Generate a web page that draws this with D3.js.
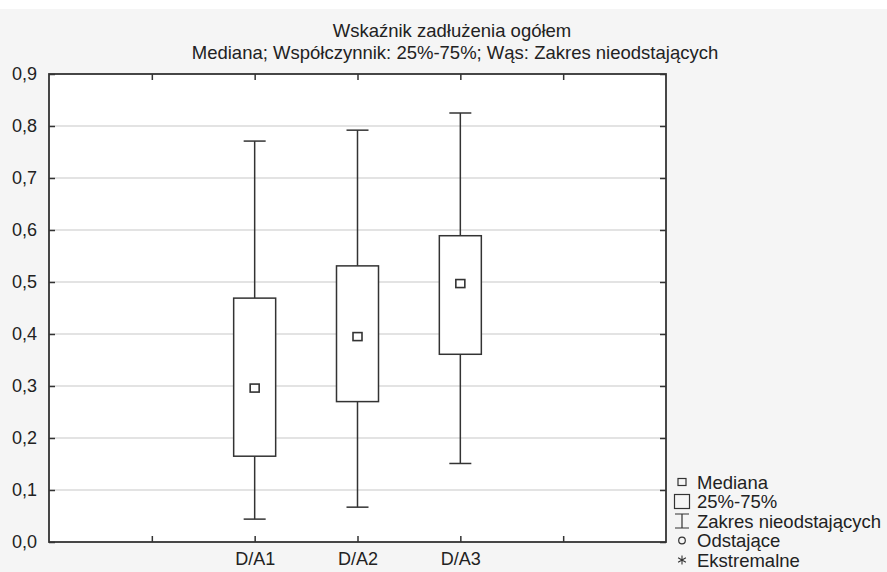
<!DOCTYPE html>
<html>
<head>
<meta charset="utf-8">
<script src="https://cdn.jsdelivr.net/npm/d3@7"></script>
<style>
  html, body { margin: 0; padding: 0; background: #f5f5f5; }
  svg { display: block; }
  text { font-family: "Liberation Sans", Arial, sans-serif; fill: #222; }
</style>
</head>
<body>
<svg id="chart" width="887" height="572"></svg>
<script>
const titleLine1 = "Wskaźnik zadłużenia ogółem";
const titleLine2 = "Mediana; Współczynnik: 25%-75%; Wąs: Zakres nieodstających";
const categories = ["D/A1", "D/A2", "D/A3"];
const categoryPos = [2, 3, 4];
const whiskerHigh = [0.771, 0.792, 0.825];
const q3 = [0.469, 0.531, 0.589];
const median = [0.296, 0.395, 0.497];
const q1 = [0.165, 0.270, 0.361];
const whiskerLow = [0.044, 0.067, 0.151];
const yTicks = [0, 0.1, 0.2, 0.3, 0.4, 0.5, 0.6, 0.7, 0.8, 0.9];
const xTicks = [1, 2, 3, 4, 5];
const legendLabels = ["Mediana", "25%-75%", "Zakres nieodstających", "Odstające", "Ekstremalne"];

(function () {
const svg = d3.select("#chart");
const W = 887, H = 572;
const pL = 49, pR = 666, pT = 74, pB = 542;
const FS = 18.5, FA = 18;
const dark = "#333";

svg.append("rect").attr("x", 0).attr("y", 0).attr("width", W).attr("height", H).attr("fill", "#f5f5f5");
svg.append("rect").attr("x", 0).attr("y", 0).attr("width", W).attr("height", 9).attr("fill", "#ffffff");

const x = d3.scaleLinear().domain([0, 6]).range([pL, pR]);
const y = d3.scaleLinear().domain([0, 0.9]).range([pB, pT]);

svg.append("rect").attr("x", pL).attr("y", pT).attr("width", pR - pL).attr("height", pB - pT).attr("fill", "#fff");

svg.append("g").selectAll("line").data(yTicks.filter(d => d > 0 && d < 0.9)).join("line")
  .attr("x1", pL).attr("x2", pR)
  .attr("y1", d => y(d)).attr("y2", d => y(d))
  .attr("stroke", "#c8c8c8").attr("stroke-width", 1.2);

const fmt = d => d3.format(".1f")(d).replace(".", ",");
const gL = svg.append("g").attr("transform", `translate(${pL},0)`)
  .call(d3.axisLeft(y).tickValues(yTicks).tickSize(-6).tickPadding(12).tickFormat(fmt));
const gR = svg.append("g").attr("transform", `translate(${pR},0)`)
  .call(d3.axisRight(y).tickValues(yTicks).tickSize(-6).tickFormat(""));
const gB = svg.append("g").attr("transform", `translate(0,${pB})`)
  .call(d3.axisBottom(x).tickValues(xTicks).tickSize(-6).tickPadding(10)
    .tickFormat(d => { const i = categoryPos.indexOf(d); return i >= 0 ? categories[i] : ""; }));
const gT = svg.append("g").attr("transform", `translate(0,${pT})`)
  .call(d3.axisTop(x).tickValues(xTicks).tickSize(-6).tickFormat(""));
[gL, gR, gB, gT].forEach(g => {
  g.select(".domain").remove();
  g.selectAll(".tick line").attr("stroke", dark).attr("stroke-width", 1.5);
  g.selectAll("text").attr("font-size", FA).attr("font-family", "Liberation Sans, Arial, sans-serif").attr("fill", "#222");
});

svg.append("rect").attr("x", pL).attr("y", pT).attr("width", pR - pL).attr("height", pB - pT)
  .attr("fill", "none").attr("stroke", dark).attr("stroke-width", 1.8);

const boxW = 42, capW = 22, medW = 9, medH = 8;
const g = svg.append("g");
categories.forEach((c, i) => {
  const cx = x(categoryPos[i]);
  g.append("line").attr("x1", cx).attr("x2", cx).attr("y1", y(whiskerHigh[i])).attr("y2", y(q3[i]))
    .attr("stroke", dark).attr("stroke-width", 1.5);
  g.append("line").attr("x1", cx).attr("x2", cx).attr("y1", y(q1[i])).attr("y2", y(whiskerLow[i]))
    .attr("stroke", dark).attr("stroke-width", 1.5);
  g.append("line").attr("x1", cx - capW / 2).attr("x2", cx + capW / 2).attr("y1", y(whiskerHigh[i])).attr("y2", y(whiskerHigh[i]))
    .attr("stroke", dark).attr("stroke-width", 1.5);
  g.append("line").attr("x1", cx - capW / 2).attr("x2", cx + capW / 2).attr("y1", y(whiskerLow[i])).attr("y2", y(whiskerLow[i]))
    .attr("stroke", dark).attr("stroke-width", 1.5);
  g.append("rect").attr("x", cx - boxW / 2).attr("y", y(q3[i])).attr("width", boxW).attr("height", y(q1[i]) - y(q3[i]))
    .attr("fill", "#fff").attr("stroke", dark).attr("stroke-width", 1.5);
  g.append("rect").attr("x", cx - medW / 2).attr("y", y(median[i]) - medH / 2).attr("width", medW).attr("height", medH)
    .attr("fill", "#fff").attr("stroke", dark).attr("stroke-width", 1.6);
});

svg.append("text").attr("x", 452).attr("y", 30).attr("text-anchor", "middle").attr("dominant-baseline", "central")
  .attr("font-size", FS).text(titleLine1);
svg.append("text").attr("x", 455).attr("y", 52).attr("text-anchor", "middle").attr("dominant-baseline", "central")
  .attr("font-size", FS).text(titleLine2);

const lx = 682, ltx = 697, ly0 = 482, ldy = 19.5;
const lg = svg.append("g");
legendLabels.forEach((t, i) => {
  const yy = ly0 + i * ldy;
  lg.append("text").attr("x", ltx).attr("y", yy).attr("dominant-baseline", "central").attr("font-size", FS).text(t);
  if (i === 0) {
    lg.append("rect").attr("x", lx - 4).attr("y", yy - 3.5).attr("width", 8).attr("height", 7)
      .attr("fill", "none").attr("stroke", dark).attr("stroke-width", 1.2);
  } else if (i === 1) {
    lg.append("rect").attr("x", lx - 7.5).attr("y", yy - 7).attr("width", 15).attr("height", 14)
      .attr("fill", "none").attr("stroke", dark).attr("stroke-width", 1.2);
  } else if (i === 2) {
    lg.append("path").attr("d", `M${lx - 7},${yy - 7}H${lx + 7}M${lx},${yy - 7}V${yy + 7}M${lx - 7},${yy + 7}H${lx + 7}`)
      .attr("fill", "none").attr("stroke", dark).attr("stroke-width", 1.2);
  } else if (i === 3) {
    lg.append("circle").attr("cx", lx).attr("cy", yy).attr("r", 3.3)
      .attr("fill", "none").attr("stroke", dark).attr("stroke-width", 1.2);
  } else {
    const r = 4.5;
    let d = "";
    [90, 30, 150].forEach(a => {
      const rad = a * Math.PI / 180;
      d += `M${lx - r * Math.cos(rad)},${yy - r * Math.sin(rad)}L${lx + r * Math.cos(rad)},${yy + r * Math.sin(rad)}`;
    });
    lg.append("path").attr("d", d).attr("stroke", dark).attr("stroke-width", 1.1);
  }
});
})();
</script>
</body>
</html>
